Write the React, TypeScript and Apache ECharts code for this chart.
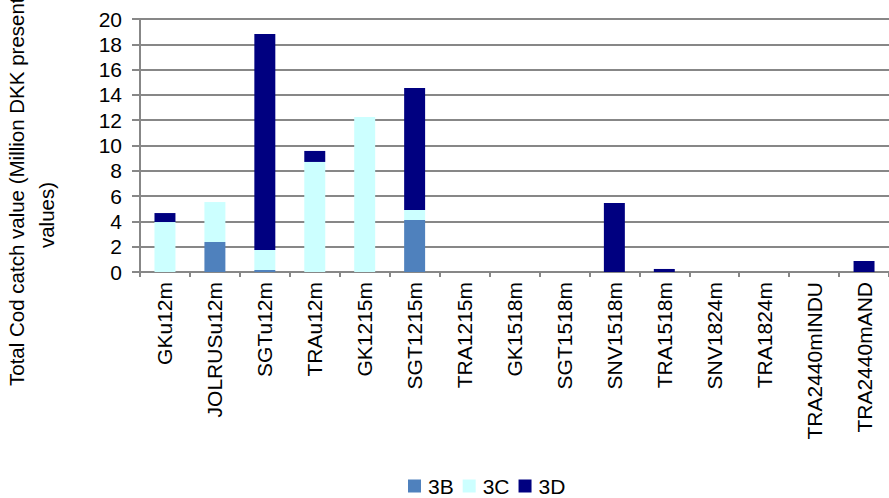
import React, { useEffect, useRef } from "react";
import * as echarts from "echarts";

const categories = [
  "GKu12m", "JOLRUSu12m", "SGTu12m", "TRAu12m", "GK1215m", "SGT1215m", "TRA1215m",
  "GK1518m", "SGT1518m", "SNV1518m", "TRA1518m", "SNV1824m", "TRA1824m",
  "TRA2440mINDU", "TRA2440mAND",
];
const s3B = [0, 2.37, 0.16, 0, 0, 4.11, 0, 0, 0, 0, 0, 0, 0, 0, 0];
const s3C = [3.95, 3.16, 1.58, 8.7, 12.25, 0.79, 0, 0, 0, 0, 0, 0, 0, 0, 0];
const s3D = [0.71, 0, 17.07, 0.87, 0, 9.65, 0, 0, 0, 5.45, 0.24, 0, 0, 0, 0.87];
const seriesNames = ["3B", "3C", "3D"];
const titleLine1 = "Total Cod catch value (Million DKK present";
const titleLine2 = "values)";

const FONT = '"Liberation Sans", Arial, sans-serif';
const GRID = "#878787";
const FS = 21;
const TFS = 20.5;

export default function App() {
  const ref = useRef<HTMLDivElement>(null);
  useEffect(() => {
    if (!ref.current) return;
    const chart = echarts.init(ref.current, null, { renderer: "svg" });
    const colors = ["#4F81BD", "#CCFFFF", "#000080"];
    const data = [s3B, s3C, s3D];
    chart.setOption({
      animation: false,
      textStyle: { fontFamily: FONT },
      grid: { left: 140, top: 19, width: 753, bottom: 226, containLabel: false },
      legend: {
        top: 474,
        left: 408,
        padding: 0,
        data: seriesNames,
        icon: "rect",
        itemWidth: 13,
        itemHeight: 13,
        itemGap: 9,
        textStyle: { fontSize: FS, lineHeight: 24, color: "#000", fontFamily: FONT, padding: [0, 0, 0, 2] },
      },
      xAxis: {
        type: "category",
        data: categories,
        boundaryGap: true,
        axisLine: { lineStyle: { color: GRID, width: 2 } },
        axisTick: { show: true, length: 5, lineStyle: { color: GRID, width: 2 } },
        axisLabel: { rotate: 90, fontSize: FS, color: "#000", margin: 10, interval: 0, fontFamily: FONT },
      },
      yAxis: {
        type: "value",
        min: 0,
        max: 20,
        interval: 2,
        axisLine: { show: true, lineStyle: { color: GRID, width: 2 } },
        axisTick: { show: true, length: 8, lineStyle: { color: GRID, width: 2 } },
        splitLine: { lineStyle: { color: GRID, width: 2 } },
        axisLabel: { fontSize: FS, color: "#000", margin: 18, fontFamily: FONT },
      },
      graphic: [
        {
          type: "text",
          x: 16,
          y: 386,
          rotation: Math.PI / 2,
          style: {
            text: titleLine1,
            font: `${TFS}px ${FONT}`,
            fill: "#000",
            textAlign: "left",
            textVerticalAlign: "middle",
            align: "left",
            verticalAlign: "middle",
          },
        },
        {
          type: "text",
          x: 46,
          y: 215,
          rotation: Math.PI / 2,
          style: {
            text: titleLine2,
            font: `${TFS}px ${FONT}`,
            fill: "#000",
            textAlign: "center",
            textVerticalAlign: "middle",
            align: "center",
            verticalAlign: "middle",
          },
        },
      ],
      series: seriesNames.map((name, i) => ({
        name,
        type: "bar",
        stack: "total",
        data: data[i],
        barWidth: "42%",
        itemStyle: { color: colors[i] },
      })),
    });
    return () => chart.dispose();
  }, []);
  return <div ref={ref} style={{ width: 889, height: 498, position: "absolute", left: 0, top: 0 }} />;
}
